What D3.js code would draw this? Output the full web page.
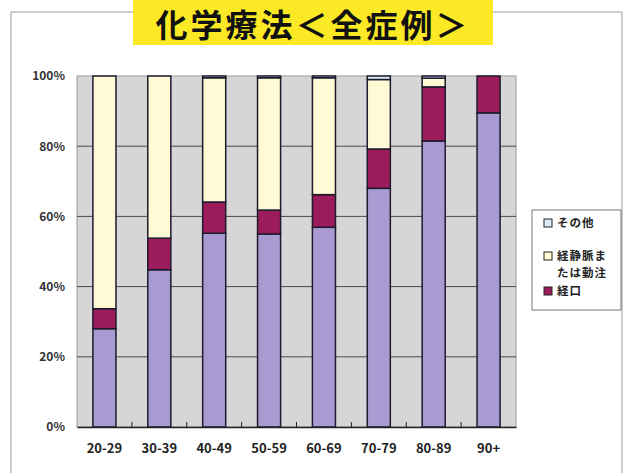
<!DOCTYPE html>
<html>
<head>
<meta charset="utf-8">
<script src="https://cdn.jsdelivr.net/npm/d3@7"></script>
<style>
body{margin:0;background:#fff;}
text{font-family:"Noto Sans CJK JP","Noto Sans",sans-serif;}
</style>
</head>
<body>
<script>
var width = 625, height = 473;

var ageGroups = ["20-29","30-39","40-49","50-59","60-69","70-79","80-89","90+"];
// purple series has no legend entry in the picture
var unlabeled = [28.0, 44.8, 55.2, 55.0, 56.9, 68.0, 81.5, 89.5];
var oral      = [5.7, 9.0, 8.9, 6.8, 9.3, 11.2, 15.4, 10.5];
var ivArtery  = [66.3, 46.2, 35.4, 37.7, 33.3, 19.8, 2.5, 0];
var other     = [0, 0, 0.5, 0.5, 0.5, 1.0, 0.6, 0];
var yTicks = [0, 20, 40, 60, 80, 100];

var keys = ["unlabeled","oral","iv","other"];
var colors = {unlabeled:"#a99bd2", oral:"#9c1b5b", iv:"#fffad5", other:"#dcecf8"};

var rows = ageGroups.map(function(g,i){
  return {group:g, unlabeled:unlabeled[i], oral:oral[i], iv:ivArtery[i], other:other[i]};
});

var margin = {left:77, right:109, top:76, bottom:46};

var svg = d3.select("body").append("svg")
  .attr("width", width)
  .attr("height", height);

// outer frame
svg.append("path")
  .attr("d","M11,474 V12 H622 V474")
  .attr("fill","none")
  .attr("stroke","#999")
  .attr("stroke-width",1);

// title
svg.append("rect")
  .attr("x",133).attr("y",0)
  .attr("width",360).attr("height",45)
  .attr("fill","#fbe925");
svg.append("text")
  .attr("x",313).attr("y",37)
  .attr("text-anchor","middle")
  .attr("font-size",32)
  .attr("letter-spacing",3)
  .attr("font-weight","bold")
  .attr("fill","#111")
  .text("化学療法＜全症例＞");

var x = d3.scaleBand()
  .domain(ageGroups)
  .range([margin.left, width - margin.right])
  .paddingInner(0.58)
  .paddingOuter(0.29);

var y = d3.scaleLinear()
  .domain([0,100])
  .range([height - margin.bottom, margin.top]);

var plot = svg.append("g");

plot.append("rect")
  .attr("x", margin.left)
  .attr("y", margin.top)
  .attr("width", width - margin.right - margin.left)
  .attr("height", y(0) - y(100))
  .attr("fill","#d6d6d6")
  .attr("stroke","#9a9a9a");

// gridlines
plot.selectAll(".grid")
  .data(yTicks.filter(function(d){return d>0 && d<100;}))
  .enter()
  .append("line")
  .attr("x1", margin.left)
  .attr("x2", width - margin.right)
  .attr("y1", function(d){return y(d);})
  .attr("y2", function(d){return y(d);})
  .attr("stroke","#4a4a4a")
  .attr("stroke-width",1);

var stack = d3.stack().keys(keys)(rows);

plot.selectAll(".series")
  .data(stack)
  .enter()
  .append("g")
  .attr("fill", function(d){return colors[d.key];})
  .selectAll("rect")
  .data(function(d){return d;})
  .enter()
  .append("rect")
  .attr("x", function(d){return x(d.data.group);})
  .attr("width", x.bandwidth())
  .attr("y", function(d){return y(d[1]);})
  .attr("height", function(d){return y(d[0]) - y(d[1]);})
  .attr("stroke","#1c1a2c")
  .attr("stroke-width",1.5);

// y axis labels
var yAxis = d3.axisLeft(y)
  .tickValues(yTicks)
  .tickFormat(function(d){return d + "%";})
  .tickSize(0)
  .tickPadding(12);
var ya = svg.append("g")
  .attr("transform","translate(" + margin.left + ",0)")
  .call(yAxis);
ya.select(".domain").remove();
ya.selectAll("text")
  .attr("font-size",12)
  .attr("font-weight","bold")
  .attr("fill","#333");

// x axis with category separator ticks
var xa = svg.append("g")
  .attr("transform","translate(0," + y(0) + ")")
  .call(d3.axisBottom(x).tickSize(0).tickPadding(17));
xa.select(".domain")
  .attr("stroke","#222")
  .attr("stroke-width",1.5);
xa.selectAll("text")
  .attr("font-size",13)
  .attr("font-weight","bold")
  .attr("fill","#222");
var step = x.step();
xa.selectAll(".sep")
  .data(ageGroups.slice(1))
  .enter()
  .append("line")
  .attr("x1", function(d){return x(d) - (step - x.bandwidth())/2;})
  .attr("x2", function(d){return x(d) - (step - x.bandwidth())/2;})
  .attr("y1", 0)
  .attr("y2", -5)
  .attr("stroke","#222");

// legend
var legendItems = [
  {key:"other", lines:["その他"]},
  {key:"iv", lines:["経静脈ま","たは動注"]},
  {key:"oral", lines:["経口"]}
];
var legendY = [223, 256, 291];
var lg = svg.append("g");
lg.append("rect")
  .attr("x",532).attr("y",210)
  .attr("width",89).attr("height",100)
  .attr("fill","#fff")
  .attr("stroke","#777");
legendItems.forEach(function(item,i){
  lg.append("rect")
    .attr("x",544).attr("y",legendY[i]-4)
    .attr("width",8).attr("height",8)
    .attr("fill",colors[item.key])
    .attr("stroke","#222");
  var t = lg.append("text")
    .attr("x",557)
    .attr("y",legendY[i] + 4)
    .attr("font-size",11.5)
    .attr("letter-spacing",1)
    .attr("font-weight","bold")
    .attr("fill","#222");
  item.lines.forEach(function(s,j){
    t.append("tspan")
      .attr("x",557)
      .attr("dy", j === 0 ? 0 : 17)
      .text(s);
  });
});
</script>
</body>
</html>
